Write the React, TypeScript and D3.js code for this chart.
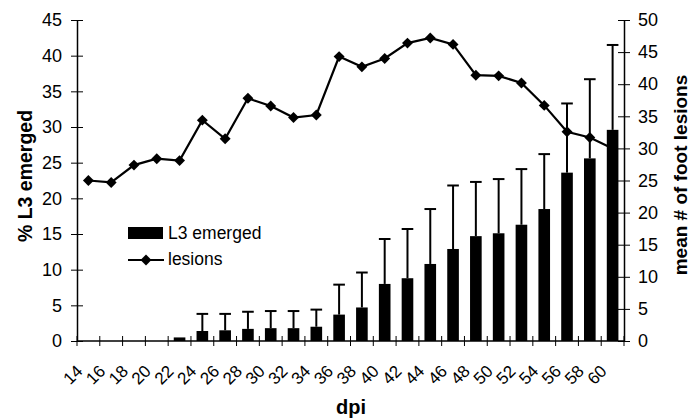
import React, { useRef, useEffect } from 'react';
import * as d3 from 'd3';

// days post infection
const dpi = [14, 16, 18, 20, 22, 24, 26, 28, 30, 32, 34, 36, 38, 40, 42, 44, 46, 48, 50, 52, 54, 56, 58, 60];
// % L3 emerged (bars, left axis)
const l3Emerged = [0, 0, 0, 0, 0.5, 1.4, 1.5, 1.7, 1.8, 1.8, 2.0, 3.7, 4.7, 8.0, 8.8, 10.8, 12.9, 14.7, 15.1, 16.3, 18.5, 23.6, 25.6, 29.6];
// upward error (SD) of L3 emerged
const l3Error = [0, 0, 0, 0, 0, 2.4, 2.3, 2.4, 2.4, 2.4, 2.4, 4.2, 4.9, 6.3, 6.9, 7.7, 8.9, 7.6, 7.6, 7.8, 7.7, 9.7, 11.1, 11.9];
// mean # of foot lesions (line, right axis)
const lesions = [25.0, 24.7, 27.4, 28.4, 28.1, 34.4, 31.5, 37.8, 36.6, 34.8, 35.2, 44.3, 42.7, 44.0, 46.4, 47.2, 46.2, 41.4, 41.3, 40.2, 36.7, 32.6, 31.7, 30.0];

const leftTicks = [0, 5, 10, 15, 20, 25, 30, 35, 40, 45];
const rightTicks = [0, 5, 10, 15, 20, 25, 30, 35, 40, 45, 50];

const W = 699;
const H = 419;
const margin = { top: 20, right: 75, bottom: 78, left: 77 };
const FONT = '"Liberation Sans", Arial, sans-serif';

const App = () => {
  const ref = useRef<SVGSVGElement>(null);

  useEffect(() => {
    const svg = d3.select(ref.current);
    svg.selectAll('*').remove();

    const x0 = margin.left;
    const x1 = W - margin.right;
    const y0 = H - margin.bottom;
    const y1 = margin.top;

    const x = d3.scaleBand<number>().domain(dpi).range([x0, x1]);
    const yL = d3.scaleLinear().domain([0, 45]).range([y0, y1]);
    const yR = d3.scaleLinear().domain([0, 50]).range([y0, y1]);
    const cx = (d: number) => (x(d) as number) + x.bandwidth() / 2;
    const barW = x.bandwidth() * 0.51;

    // bars
    svg
      .append('g')
      .selectAll('rect')
      .data(dpi)
      .join('rect')
      .attr('x', d => cx(d) - barW / 2)
      .attr('width', barW)
      .attr('y', (d, i) => yL(l3Emerged[i]))
      .attr('height', (d, i) => y0 - yL(l3Emerged[i]))
      .attr('fill', '#000');

    // error bars (upper only)
    const top = (d: number) => {
      const i = dpi.indexOf(d);
      return yL(l3Emerged[i] + l3Error[i]);
    };
    const err = svg
      .append('g')
      .attr('stroke', '#000')
      .attr('stroke-width', 2)
      .selectAll('g')
      .data(dpi.filter((d, i) => l3Error[i] > 0))
      .join('g');
    err
      .append('line')
      .attr('x1', d => cx(d))
      .attr('x2', d => cx(d))
      .attr('y1', d => yL(l3Emerged[dpi.indexOf(d)]))
      .attr('y2', top);
    err
      .append('line')
      .attr('x1', d => cx(d) - barW / 2)
      .attr('x2', d => cx(d) + barW / 2)
      .attr('y1', top)
      .attr('y2', top);

    // lesions line
    const line = d3
      .line<number>()
      .x(d => cx(d))
      .y((d, i) => yR(lesions[i]));
    svg
      .append('path')
      .datum(dpi)
      .attr('d', line)
      .attr('fill', 'none')
      .attr('stroke', '#000')
      .attr('stroke-width', 2.2);
    const diamond = d3.symbol().type(d3.symbolDiamond2).size(76);
    svg
      .append('g')
      .selectAll('path')
      .data(dpi)
      .join('path')
      .attr('d', diamond)
      .attr('transform', (d, i) => `translate(${cx(d)},${yR(lesions[i])})`)
      .attr('fill', '#000');

    // left axis
    const gL = svg
      .append('g')
      .attr('transform', `translate(${x0},0)`)
      .call(d3.axisLeft(yL).tickValues(leftTicks).tickSize(6).tickPadding(9).tickSizeOuter(0));
    gL.selectAll('.tick line').attr('x2', -6).attr('x1', 6);
    gL.select('.domain').attr('stroke-width', 1.5);

    // right axis
    const gR = svg
      .append('g')
      .attr('transform', `translate(${x1},0)`)
      .call(d3.axisRight(yR).tickValues(rightTicks).tickSize(6).tickPadding(8).tickSizeOuter(0));
    gR.selectAll('.tick line').attr('x1', -6).attr('x2', 6);
    gR.select('.domain').attr('stroke-width', 1.5);

    [gL, gR].forEach(g => {
      g.selectAll('text').attr('font-family', FONT).attr('font-size', 18).attr('fill', '#000');
    });

    // bottom axis: boundary ticks + rotated category labels
    const gB = svg.append('g');
    gB.append('line')
      .attr('x1', x0)
      .attr('x2', x1)
      .attr('y1', y0)
      .attr('y2', y0)
      .attr('stroke', '#000')
      .attr('stroke-width', 1.5);
    gB.selectAll('line.tk')
      .data(d3.range(dpi.length + 1))
      .join('line')
      .attr('class', 'tk')
      .attr('x1', i => x0 + i * x.step())
      .attr('x2', i => x0 + i * x.step())
      .attr('y1', y0 - 5)
      .attr('y2', y0 + 5)
      .attr('stroke', '#000');
    gB.selectAll('text')
      .data(dpi)
      .join('text')
      .attr('transform', d => `translate(${cx(d) - 9},${y0 + 27}) rotate(-45)`)
      .attr('text-anchor', 'end')
      .attr('dy', '0.35em')
      .attr('font-family', FONT)
      .attr('font-size', 17)
      .text(d => d);

    // axis titles
    svg.append('text')
      .attr('x', 351)
      .attr('y', 414)
      .attr('text-anchor', 'middle')
      .attr('font-family', FONT)
      .attr('font-weight', 'bold')
      .attr('font-size', 20)
      .text('dpi');
    svg.append('text')
      .attr('transform', 'translate(32,176) rotate(-90)')
      .attr('text-anchor', 'middle')
      .attr('font-family', FONT)
      .attr('font-weight', 'bold')
      .attr('font-size', 19.5)
      .text('% L3 emerged');
    svg.append('text')
      .attr('transform', 'translate(687,175) rotate(-90)')
      .attr('text-anchor', 'middle')
      .attr('font-family', FONT)
      .attr('font-weight', 'bold')
      .attr('font-size', 19)
      .text('mean # of foot lesions');

    // legend
    const lg = svg.append('g').attr('font-family', FONT).attr('font-size', 17.5);
    lg.append('rect').attr('x', 128).attr('y', 227).attr('width', 35).attr('height', 12).attr('fill', '#000');
    lg.append('text').attr('x', 168).attr('y', 239).text('L3 emerged');
    lg.append('line').attr('x1', 128).attr('x2', 164).attr('y1', 260).attr('y2', 260).attr('stroke', '#000').attr('stroke-width', 2);
    lg.append('path').attr('d', diamond).attr('transform', 'translate(146,260)').attr('fill', '#000');
    lg.append('text').attr('x', 168).attr('y', 265).text('lesions');
  }, []);

  return (
    <svg
      ref={ref}
      width={W}
      height={H}
      style={{ position: 'absolute', left: 0, top: 0, background: '#fff' }}
    />
  );
};

export default App;
